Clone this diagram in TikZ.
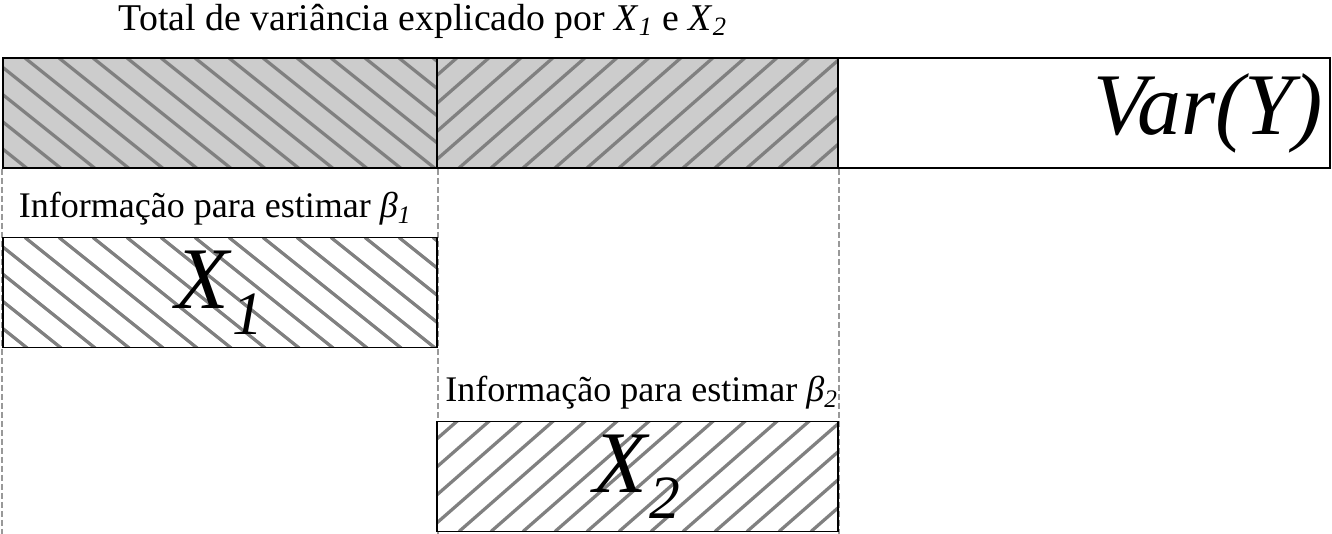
\documentclass[tikz,border=0pt]{standalone}
\usepackage{fontspec}
\setmainfont{Liberation Serif}
\usetikzlibrary{positioning}

\newcommand{\isub}[2]{\textit{#1}\textsubscript{\textit{#2}}}

\tikzset{
    hatchline/.style = {draw = gray, line width = 0.065cm},
    hatchdown/.style = {path picture = {
        \foreach \k in {-5,...,14}
            \draw [hatchline]
                ([xshift = 0.44cm + \k*0.68cm]path picture bounding box.north west)
                -- ++(3cm, -2.4cm);
    }},
    hatchup/.style = {path picture = {
        \foreach \k in {-5,...,14}
            \draw [hatchline]
                ([xshift = 0.44cm + \k*0.64cm]path picture bounding box.south west)
                -- ++(2.8cm, 2.45cm);
    }},
    part/.style = {draw, line width = 0.035cm, inner sep = 0pt,
        minimum height = 2.2cm},
    guide/.style = {draw = gray!80, line width = 0.04cm,
        dash pattern = on 0.12cm off 0.06cm},
    label/.style = {inner sep = 0pt, font = \fontsize{20.5}{24}\selectfont},
    big/.style = {font = \fontsize{50}{60}\selectfont}
}

\begin{document}
\begin{tikzpicture}
    \useasboundingbox (0,0) rectangle (26.64,-10.68);
    \draw (4.4,-2.26) node(P1) [part, fill = gray!40, hatchdown,
        minimum width = 8.68cm] {};
    \draw (12.75,-2.26) node(P2) [part, fill = gray!40, hatchup,
        minimum width = 8.02cm] {};
    \draw (21.68,-2.26) node(P3) [part, fill = white,
        minimum width = 9.84cm] {};
    \node(VY) [big, inner sep = 0pt, left = 0.16cm of P3.east]
        {\textit{Var(Y)}};
    \draw (8.46,-0.6) node(T) [label, anchor = base,
        font = \fontsize{21.5}{26}\selectfont]
        {Total de variância explicado por \isub{X}{1} e \isub{X}{2}};
    \coordinate (B0) at (P1.south west |- 0,-10.68);
    \coordinate (B1) at (P1.south east |- 0,-10.68);
    \coordinate (B2) at (P2.south east |- 0,-10.68);
    \draw [guide] (P1.south west) -- (B0);
    \draw [guide] (P1.south east) -- (B1);
    \draw [guide] (P2.south east) -- (B2);
    \draw (4.4,-5.85) node(X1) [part, fill = white, hatchdown,
        minimum width = 8.68cm, big] {\isub{X}{1}};
    \draw (12.75,-9.53) node(X2) [part, fill = white, hatchup,
        minimum width = 8.02cm, big] {\isub{X}{2}};
    \node(L1) [label, above = 0.22cm of X1, xshift = -0.1cm]
        {Informação para estimar \isub{β}{1}};
    \node(L2) [label, above = 0.22cm of X2, xshift = 0.08cm]
        {Informação para estimar \isub{β}{2}};
\end{tikzpicture}
\end{document}
